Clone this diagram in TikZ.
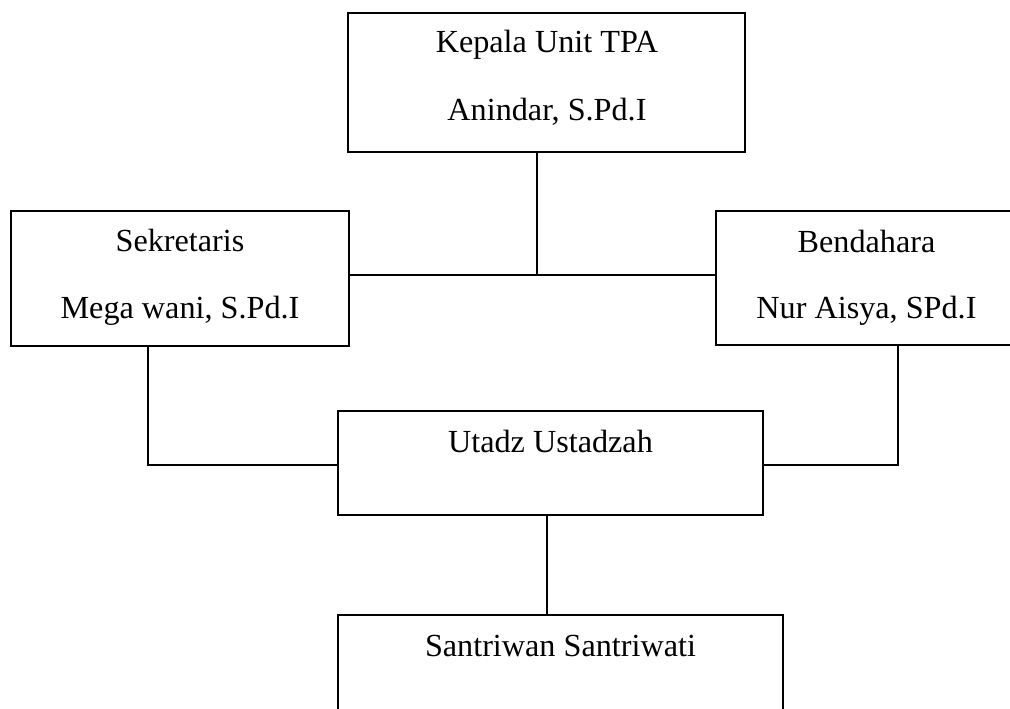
\documentclass[tikz,border=0pt]{standalone}
\usepackage{fontspec}
\setmainfont{Liberation Serif}
\begin{document}
\begin{tikzpicture}[x=1pt,y=-1pt,
  box/.style={draw, line width=1.8pt, anchor=north west, inner sep=0pt, outer sep=0pt},
  lbl/.style={anchor=base, inner sep=0pt, font=\fontsize{32.2}{38}\selectfont},
  conn/.style={line width=1.6pt}]
\useasboundingbox (0,0) rectangle (1010,709);
\clip (0,0) rectangle (1010,709);
% boxes
\node[box, minimum width=397pt, minimum height=139pt] (top) at (348,13) {};
\node[box, minimum width=338pt, minimum height=135pt] (sek) at (11,211) {};
\node[box, minimum width=301pt, minimum height=134pt] (ben) at (716,211) {};
\node[box, minimum width=425pt, minimum height=104pt] (uta) at (338,411) {};
\node[box, minimum width=445pt, minimum height=120pt] (san) at (338,615) {};
% texts
\node[lbl] (t1) at (547,53) {Kepala Unit TPA};
\node[lbl] (t2) at (547,121) {Anindar, S.Pd.I};
\node[lbl] (s1) at (180,251) {Sekretaris};
\node[lbl] (s2) at (180,318) {Mega wani, S.Pd.I};
\node[lbl] (b1) at (866.5,252) {Bendahara};
\node[lbl] (b2) at (866.5,318) {Nur Aisya, SPd.I};
\node[lbl] (u1) at (550.5,452) {Utadz Ustadzah};
\node[lbl] (n1) at (560.5,656) {Santriwan Santriwati};
% junctions
\coordinate (jt) at (537,275);
\coordinate (js) at (148,465);
\coordinate (jb) at (898,465);
\coordinate (jm) at (547,565);
% connectors
\draw[conn] (top.south -| jt) -- (jt);
\draw[conn] (sek.east |- jt) -- (ben.west |- jt);
\draw[conn] (sek.south -| js) -- (js) -- (uta.west |- js);
\draw[conn] (ben.south -| jb) -- (jb) -- (uta.east |- jb);
\draw[conn] (uta.south -| jm) -- (san.north -| jm);
\end{tikzpicture}
\end{document}
